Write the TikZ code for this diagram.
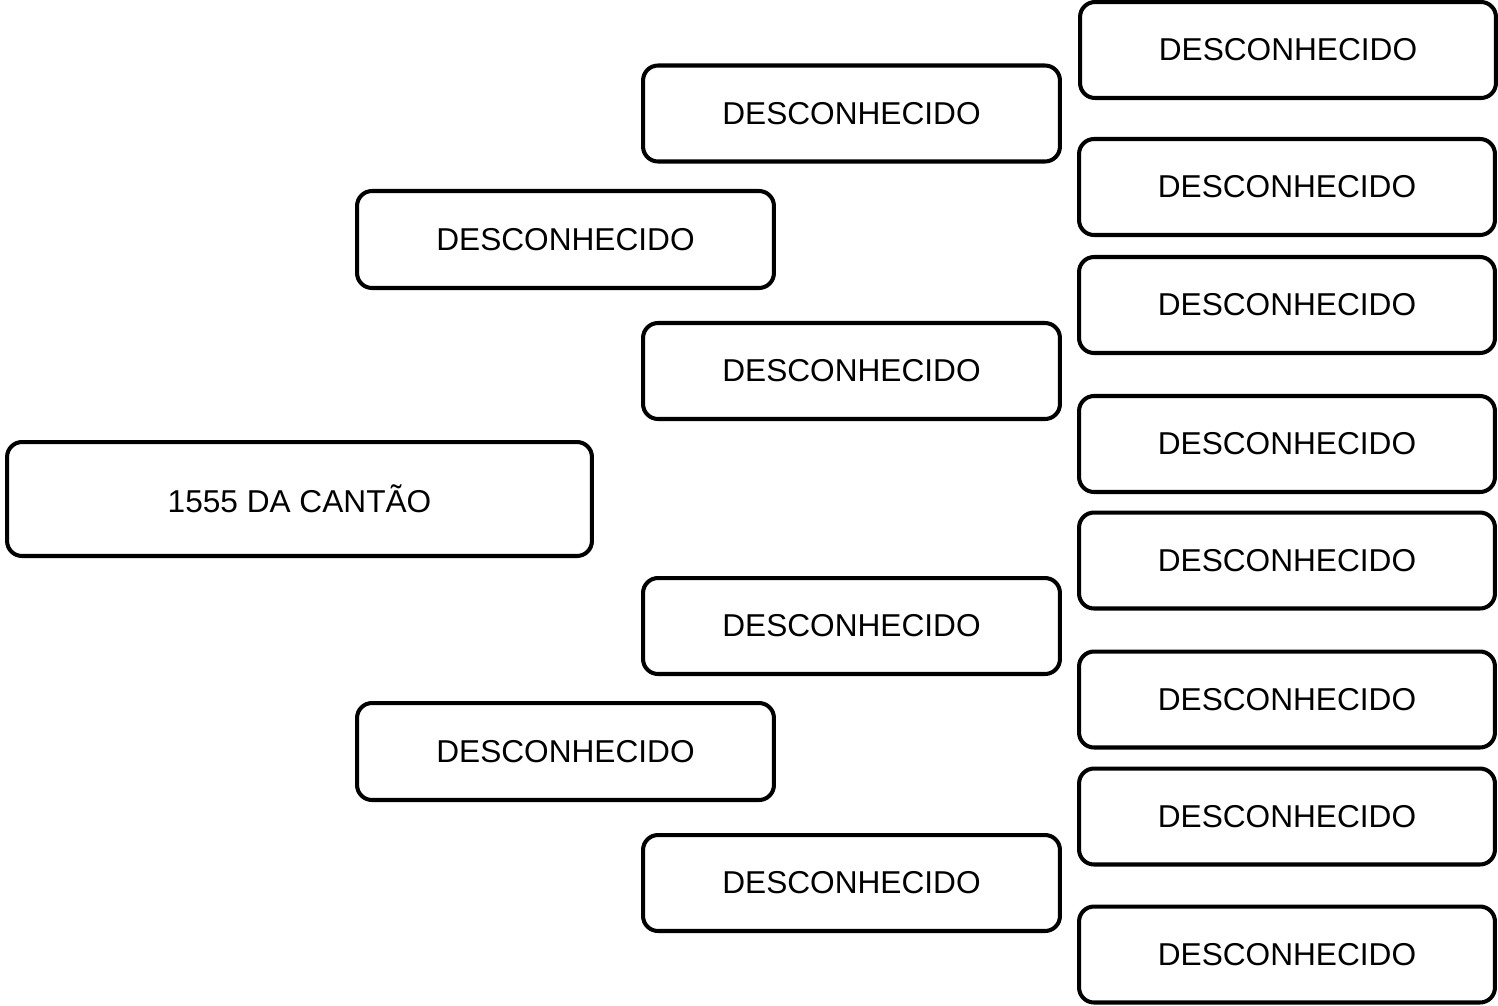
\documentclass[tikz,border=0pt]{standalone}
\usepackage{fontspec}
\setmainfont{Liberation Sans}
\usepackage{tikz}

\begin{document}
\begin{tikzpicture}[x=0.02cm, y=-0.02cm,
	person/.style={draw, line width=2.3pt, rounded corners=0.3cm, align=center,
		font=\fontsize{18}{22}\selectfont, inner sep=0pt},
	gen0/.style={person, minimum width=11.7cm, minimum height=2.28cm},
	gen1/.style={person, minimum width=8.34cm, minimum height=1.94cm},
	gen2/.style={person, minimum width=8.34cm, minimum height=1.92cm},
	gen3/.style={person, minimum width=8.32cm, minimum height=1.92cm}]
\useasboundingbox (0,0) rectangle (1498,1005);
% proband
\node[gen0] (p) at (299.5,499) {1555 DA CANTÃO};
% parents
\node[gen1] (f) at (565.5,239.5) {DESCONHECIDO};
\node[gen1] (m) at (565.5,751.5) {DESCONHECIDO};
% grandparents
\node[gen2] (ff) at (851.5,113.5) {DESCONHECIDO};
\node[gen2] (fm) at (851.5,371) {DESCONHECIDO};
\node[gen2] (mf) at (851.5,626) {DESCONHECIDO};
\node[gen2] (mm) at (851.5,883) {DESCONHECIDO};
% great-grandparents
\node[gen3] (fff) at (1288,50) {DESCONHECIDO};
\node[gen3] (ffm) at (1287,187) {DESCONHECIDO};
\node[gen3] (fmf) at (1287,305) {DESCONHECIDO};
\node[gen3] (fmm) at (1287,444) {DESCONHECIDO};
\node[gen3] (mff) at (1287,560.5) {DESCONHECIDO};
\node[gen3] (mfm) at (1287,699.5) {DESCONHECIDO};
\node[gen3] (mmf) at (1287,816.5) {DESCONHECIDO};
\node[gen3] (mmm) at (1287,954.5) {DESCONHECIDO};
\end{tikzpicture}
\end{document}
